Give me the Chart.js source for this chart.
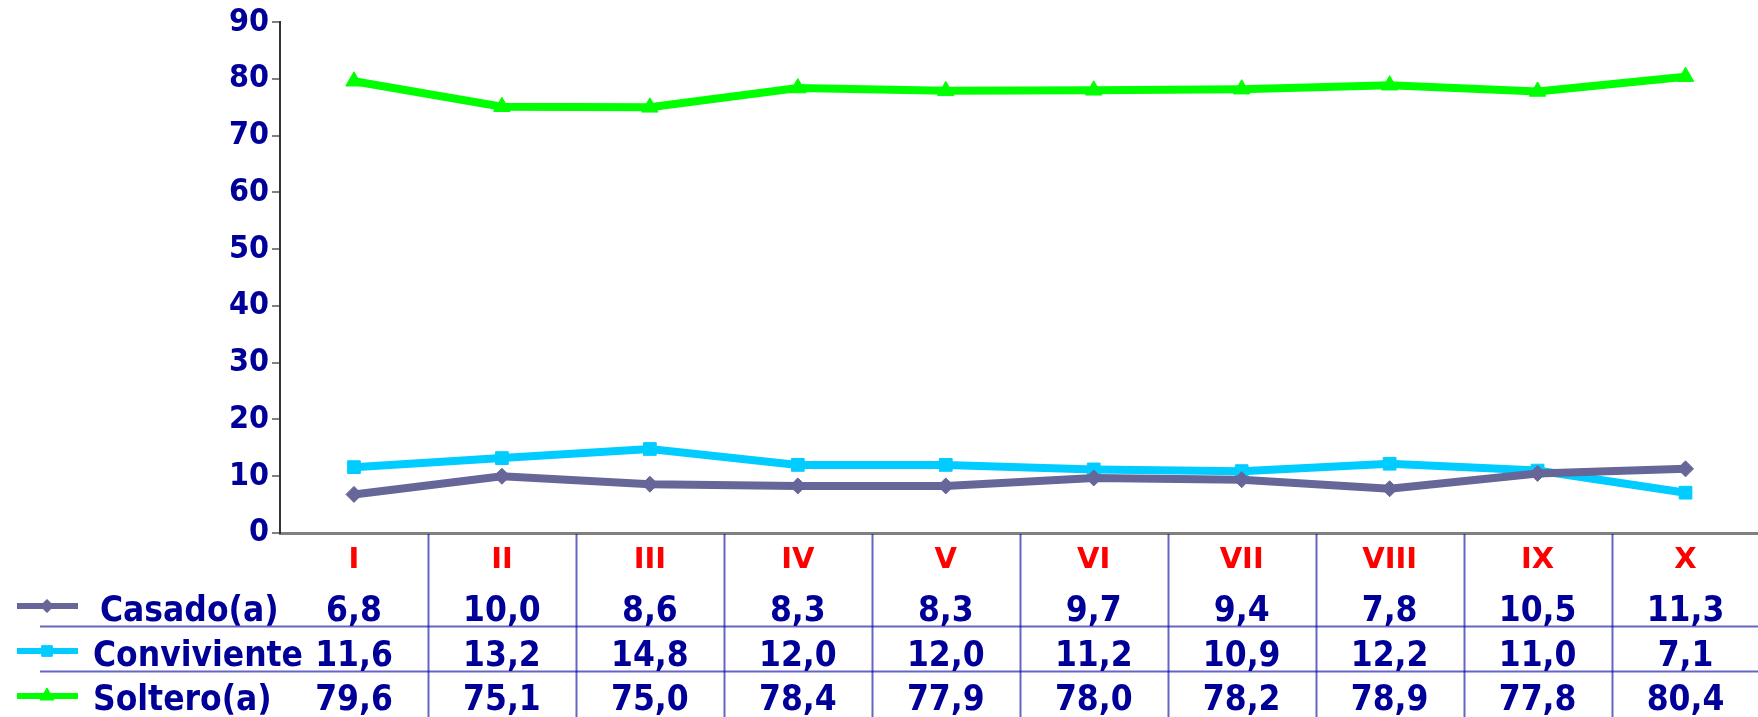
<!DOCTYPE html>
<html>
<head>
<meta charset="utf-8">
<script src="https://cdn.jsdelivr.net/npm/chart.js@4"></script>
<style>
  html, body { margin: 0; padding: 0; background: #fff; overflow: hidden; }
  #wrap { width: 1758px; height: 717px; overflow: hidden; }
</style>
</head>
<body>
<div id="wrap"><canvas id="grafico" width="1770" height="717"></canvas></div>
<script>
// ====== DATOS ======
const categorias = ["I", "II", "III", "IV", "V", "VI", "VII", "VIII", "IX", "X"];
const casado = [6.8, 10.0, 8.6, 8.3, 8.3, 9.7, 9.4, 7.8, 10.5, 11.3];
const conviviente = [11.6, 13.2, 14.8, 12.0, 12.0, 11.2, 10.9, 12.2, 11.0, 7.1];
const soltero = [79.6, 75.1, 75.0, 78.4, 77.9, 78.0, 78.2, 78.9, 77.8, 80.4];
const nombres = ["Casado(a)", "Conviviente", "Soltero(a)"];
const ticksY = [0, 10, 20, 30, 40, 50, 60, 70, 80, 90];

const AZUL = "#000099";
const FUENTE = "'DejaVu Sans Condensed', 'DejaVu Sans', sans-serif";
const FUENTE_ROMANA = "'DejaVu Sans', sans-serif";

const series = [
  { label: nombres[0], data: casado, color: "#666699", style: "rectRot", radius: 8 },
  { label: nombres[1], data: conviviente, color: "#00CCFF", style: "rect", radius: 9 },
  { label: nombres[2], data: soltero, color: "#00FF00", style: "triangle", radius: 9.5 }
];

const fmt = v => v.toFixed(1).replace(".", ",");

// ====== TABLA DE DATOS BAJO EL EJE ======
const tablaPlugin = {
  id: "tabla",
  afterDraw(chart) {
    const { ctx, chartArea, scales: { x } } = chart;
    const h = chart.height;
    const ancho = x.getPixelForTick(1) - x.getPixelForTick(0);
    const filasTexto = [621, 666, 710];
    const filasMarca = [606, 651, 696];
    const lineasFila = [626, 671];

    ctx.save();
    // separadores verticales
    ctx.strokeStyle = "rgba(0,0,153,0.6)";
    ctx.lineWidth = 2;
    for (let i = 0; i < categorias.length; i++) {
      const bx = Math.round(x.getPixelForTick(i) + ancho / 2) + 0.5;
      ctx.beginPath();
      ctx.moveTo(bx, chartArea.bottom + 1);
      ctx.lineTo(bx, h);
      ctx.stroke();
    }
    // lineas horizontales entre filas
    lineasFila.forEach(y => {
      ctx.beginPath();
      ctx.moveTo(40, y + 0.5);
      ctx.lineTo(chart.width, y + 0.5);
      ctx.stroke();
    });

    // leyenda + valores
    ctx.font = "bold 35px " + FUENTE;
    ctx.textBaseline = "alphabetic";
    series.forEach((s, r) => {
      const ym = filasMarca[r];
      ctx.strokeStyle = s.color;
      ctx.fillStyle = s.color;
      ctx.lineWidth = 6;
      ctx.beginPath();
      ctx.moveTo(17, ym);
      ctx.lineTo(78, ym);
      ctx.stroke();
      ctx.lineWidth = 1;
      Chart.helpers.drawPoint(ctx, { pointStyle: s.style, radius: s.radius - 1.5, borderWidth: 1, rotation: 0 }, 47, ym);
      ctx.fill();

      ctx.fillStyle = AZUL;
      ctx.textAlign = "left";
      ctx.fillText(s.label, r === 0 ? 100 : 93, filasTexto[r]);
      ctx.textAlign = "center";
      s.data.forEach((v, i) => {
        ctx.fillText(fmt(v), x.getPixelForTick(i), filasTexto[r]);
      });
    });
    ctx.restore();
  }
};

new Chart(document.getElementById("grafico"), {
  type: "line",
  data: {
    labels: categorias,
    datasets: series.map(s => ({
      label: s.label,
      data: s.data,
      borderColor: s.color,
      backgroundColor: s.color,
      borderWidth: 8,
      tension: 0,
      pointStyle: s.style,
      pointRadius: s.radius,
      pointBorderWidth: 1,
      pointBackgroundColor: s.color,
      pointBorderColor: s.color
    }))
  },
  options: {
    responsive: false,
    animation: false,
    layout: { padding: { top: 19, right: 2, left: 0, bottom: 0 } },
    plugins: {
      legend: { display: false },
      tooltip: { enabled: false }
    },
    scales: {
      x: {
        offset: true,
        grid: { display: false, drawTicks: false },
        border: { display: true, color: "#808080", width: 3 },
        ticks: {
          color: "#FF0000",
          font: { family: FUENTE_ROMANA, size: 29, weight: "bold" },
          padding: 10,
          maxRotation: 0,
          autoSkip: false
        },
        afterFit: s => { s.height = 184; }
      },
      y: {
        min: 0,
        max: 90,
        afterBuildTicks: s => { s.ticks = ticksY.map(v => ({ value: v })); },
        grid: { drawOnChartArea: false, drawTicks: true, tickLength: 8, color: "#808080", lineWidth: 2 },
        border: { display: true, color: "#333333", width: 2 },
        ticks: {
          color: AZUL,
          font: { family: FUENTE, size: 32, weight: "bold" },
          padding: 3
        },
        afterFit: s => { s.width = 280; }
      }
    }
  },
  plugins: [tablaPlugin]
});
</script>
</body>
</html>
